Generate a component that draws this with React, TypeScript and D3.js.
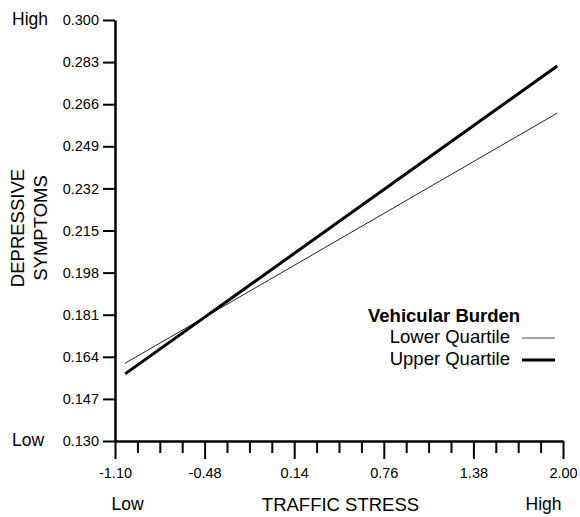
import { useEffect, useRef } from "react";
import * as d3 from "d3";

// values
const xTicks = [-1.1, -0.48, 0.14, 0.76, 1.38, 2.0];
const xMinorTicks = [
    -0.945, -0.79, -0.635, -0.325, -0.17, -0.015, 0.295, 0.45, 0.605,
    0.915, 1.07, 1.225, 1.535, 1.69, 1.845,
];
const yTicks = [0.13, 0.147, 0.164, 0.181, 0.198, 0.215, 0.232, 0.249, 0.266, 0.283, 0.3];

const trafficStress = [-1.03, 1.96];
const lowerQuartile = [0.1614, 0.2624];
const upperQuartile = [0.1571, 0.2814];

const seriesNames = ["Lower Quartile", "Upper Quartile"];

const FONT = "Arial, 'Liberation Sans', Helvetica, sans-serif";

function App() {
    const svgRef = useRef<SVGSVGElement>(null);

    useEffect(() => {
        const svgEl = svgRef.current;
        if (!svgEl) return;

        const width = 580;
        const height = 517;

        d3.select(svgEl).selectAll("*").remove();
        const svg = d3.select(svgEl)
            .attr("width", width)
            .attr("height", height)
            .attr("viewBox", [0, 0, width, height]);

        const xScale = d3.scaleLinear().domain([-1.1, 2.0]).range([115, 563]);
        const yScale = d3.scaleLinear().domain([0.13, 0.3]).range([441, 20]);

        const line = d3.line<[number, number]>()
            .x(d => xScale(d[0]))
            .y(d => yScale(d[1]));

        // minor x ticks
        svg.append("g")
            .attr("transform", "translate(0,441)")
            .call(d3.axisBottom(xScale).tickValues(xMinorTicks).tickSize(12).tickSizeOuter(0).tickFormat(() => ""))
            .call(g => g.select(".domain").remove())
            .call(g => g.selectAll("line").attr("stroke-width", 2));

        // major x axis
        svg.append("g")
            .attr("transform", "translate(0,441)")
            .call(d3.axisBottom(xScale).tickValues(xTicks).tickSize(18).tickSizeOuter(0).tickPadding(9)
                .tickFormat(d => (d as number).toFixed(2)))
            .call(g => g.select(".domain").attr("stroke-width", 2.5))
            .call(g => g.selectAll("line").attr("stroke-width", 2))
            .call(g => g.selectAll("text")
                .attr("font-family", FONT)
                .attr("font-size", "14.5px")
                .attr("fill", "#000"));

        // y axis
        svg.append("g")
            .attr("transform", "translate(115,0)")
            .call(d3.axisLeft(yScale).tickValues(yTicks).tickSize(12).tickSizeOuter(0).tickPadding(4)
                .tickFormat(d => (d as number).toFixed(3)))
            .call(g => g.select(".domain").attr("stroke-width", 2.5))
            .call(g => g.selectAll("line").attr("stroke-width", 2))
            .call(g => g.selectAll("text")
                .attr("font-family", FONT)
                .attr("font-size", "14.5px")
                .attr("fill", "#000"));

        // series lines
        svg.append("path")
            .datum(trafficStress.map((x, i) => [x, lowerQuartile[i]] as [number, number]))
            .attr("fill", "none")
            .attr("stroke", "#222")
            .attr("stroke-width", 1)
            .attr("d", line);

        svg.append("path")
            .datum(trafficStress.map((x, i) => [x, upperQuartile[i]] as [number, number]))
            .attr("fill", "none")
            .attr("stroke", "#000")
            .attr("stroke-width", 3)
            .attr("d", line);

        const txt = (x: number, y: number, s: string, anchor = "start", size = 17.5, weight = "normal") =>
            svg.append("text")
                .attr("x", x)
                .attr("y", y)
                .attr("text-anchor", anchor)
                .attr("font-family", FONT)
                .attr("font-size", `${size}px`)
                .attr("font-weight", weight)
                .attr("fill", "#000")
                .text(s);

        // end labels
        txt(12, yScale(0.3) + 5, "High");
        txt(12, yScale(0.13) + 5, "Low");
        txt(127.5, 510, "Low", "middle");
        txt(543.5, 510, "High", "middle");
        txt(340.5, 511, "TRAFFIC STRESS", "middle", 18.5);

        // y title
        svg.append("text")
            .attr("transform", "translate(24,228) rotate(-90)")
            .attr("text-anchor", "middle")
            .attr("font-family", FONT)
            .attr("font-size", "18.5px")
            .attr("fill", "#000")
            .text("DEPRESSIVE");
        svg.append("text")
            .attr("transform", "translate(47,228) rotate(-90)")
            .attr("text-anchor", "middle")
            .attr("font-family", FONT)
            .attr("font-size", "18.5px")
            .attr("fill", "#000")
            .text("SYMPTOMS");

        // legend
        txt(368, 322, "Vehicular Burden", "start", 18.5, "bold");
        txt(510, 343, seriesNames[0], "end", 18.5);
        txt(510, 365, seriesNames[1], "end", 18.5);
        svg.append("line")
            .attr("x1", 522).attr("x2", 555).attr("y1", 338).attr("y2", 338)
            .attr("stroke", "#888").attr("stroke-width", 1.5);
        svg.append("line")
            .attr("x1", 522).attr("x2", 555).attr("y1", 360).attr("y2", 360)
            .attr("stroke", "#000").attr("stroke-width", 3);
    }, []);

    return (
        <div style={{ position: "absolute", left: 0, top: 0, background: "#fff" }}>
            <svg ref={svgRef} style={{ display: "block" }} />
        </div>
    );
}

export default App;
